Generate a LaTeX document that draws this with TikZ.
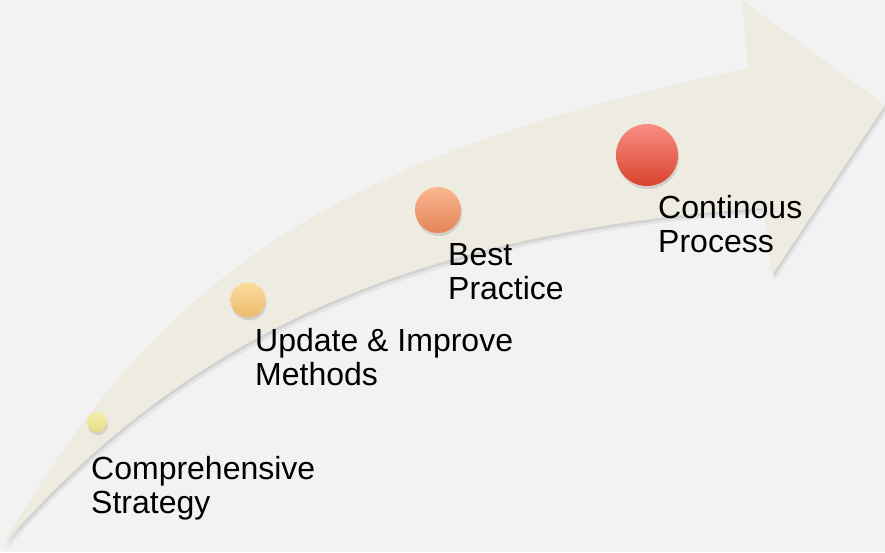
\documentclass[tikz,border=0pt]{standalone}
\usepackage{fontspec}
\setmainfont{Liberation Sans}
\usetikzlibrary{positioning, shadows}

\definecolor{bggray}{HTML}{F2F2F2}
\definecolor{arrowtan}{HTML}{EEECE1}

\begin{document}
\begin{tikzpicture}[x=1pt, y=-1pt,
        dot/.style={circle, inner sep=0pt, drop shadow={shadow xshift=1pt, shadow yshift=-3pt, opacity=.25}},
        lbl/.style={anchor=base west, align=left, inner sep=0pt, font=\fontsize{32}{34.5}\selectfont}]
        \fill[bggray] (0,0) rectangle (885,552);
        \useasboundingbox (0,0) rectangle (885,552);

        % curved arrow with a faint shadow
        \fill[black, opacity=.05, shift={(3,5)}] (3,545) .. controls (168,258) and (356,152) .. (748,68)
            -- (742,0) -- (885,105) -- (772,275) -- (763,208)
            .. controls (420,232) and (190,330) .. (3,545) -- cycle;
        \fill[black, opacity=.08, shift={(1.5,2.5)}] (3,545) .. controls (168,258) and (356,152) .. (748,68)
            -- (742,0) -- (885,105) -- (772,275) -- (763,208)
            .. controls (420,232) and (190,330) .. (3,545) -- cycle;
        \fill[arrowtan] (3,545) .. controls (168,258) and (356,152) .. (748,68)
            -- (742,0) -- (885,105) -- (772,275) -- (763,208)
            .. controls (420,232) and (190,330) .. (3,545) -- cycle;

        \node[dot, minimum size=20pt, top color={rgb,255:red,245;green,239;blue,170}, bottom color={rgb,255:red,230;green,219;blue,134}] (d1) at (97,422) {};
        \node[dot, minimum size=35pt, top color={rgb,255:red,252;green,220;blue,156}, bottom color={rgb,255:red,235;green,187;blue,110}] (d2) at (248,300) {};
        \node[dot, minimum size=46pt, top color={rgb,255:red,251;green,183;blue,144}, bottom color={rgb,255:red,228;green,132;blue,90}] (d3) at (438,210) {};
        \node[dot, minimum size=62pt, top color={rgb,255:red,249;green,142;blue,132}, bottom color={rgb,255:red,216;green,67;blue,44}] (d4) at (647,155) {};

        % base of each label is its second line
        \node[lbl] (strategy) at (91,513.5) {Comprehensive\\Strategy};
        \node[lbl] (methods) at (255,385.5) {Update \& Improve\\Methods};
        \node[lbl] (practice) at (448,299.5) {Best\\Practice};
        \node[lbl] (process) at (658,252.5) {Continous\\Process};
    \end{tikzpicture}
\end{document}
